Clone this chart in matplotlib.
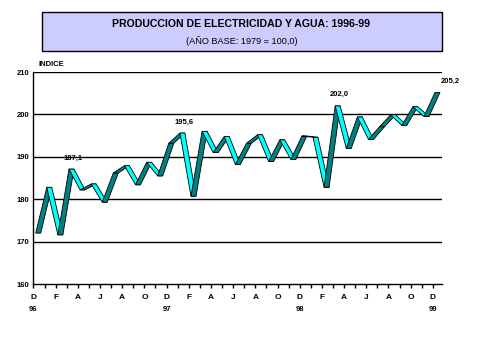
import numpy as np
import matplotlib
matplotlib.use("Agg")
import matplotlib.pyplot as plt
from matplotlib.patches import Polygon, Rectangle

# monthly index, Dec 1996 .. Dec 1999
values = [172.0, 182.8, 171.6, 187.1, 182.2, 183.6, 179.3, 186.2, 187.9, 183.4,
          188.7, 185.5, 193.2, 195.6, 180.7, 196.0, 191.0, 194.8, 188.2, 193.2,
          195.2, 188.9, 194.0, 189.4, 194.9, 194.6, 182.8, 202.0, 192.0, 199.4,
          194.1, 197.1, 199.9, 197.4, 201.8, 199.5, 205.2]
month_labels = ["D", "F", "A", "J", "A", "O"] * 3 + ["D"]
year_labels = ["96", "97", "98", "99"]
labelled = {3: "187,1", 13: "195,6", 27: "202,0", 36: "205,2"}

plt.rcParams['font.family'] = ['Liberation Sans', 'DejaVu Sans']

fig = plt.figure(figsize=(4.79, 3.59), dpi=100)
ax = fig.add_axes([0.0699, 0.2089, 0.8522, 0.5905])

n = len(values)
x = np.arange(n) + 0.2
y = np.array(values)
depth = 0.45  # ribbon depth, in months

ax.set_xlim(0, 36.8)
ax.set_ylim(160, 210)

# gridlines
for g in range(170, 211, 10):
    ax.axhline(g, color="black", lw=1.0, zorder=1)

# ribbon: one parallelogram per segment, lit when descending
for i in range(n - 1):
    pts = [(x[i], y[i]), (x[i + 1], y[i + 1]),
           (x[i + 1] + depth, y[i + 1]), (x[i] + depth, y[i])]
    col = "#00FFFF" if y[i + 1] < y[i] else "#008080"
    ax.add_patch(Polygon(pts, closed=True, facecolor=col, edgecolor="black",
                         lw=0.6, zorder=3 + i))

for i, txt in labelled.items():
    ax.annotate(txt, (x[i] + depth / 2, y[i]), xytext=(1 if i < 36 else 9, 5.5),
                textcoords="offset points", ha="center", va="bottom",
                fontsize=5.5, fontweight="bold", zorder=60)

# axes styling
for s in ["top", "right"]:
    ax.spines[s].set_visible(False)
ax.spines["left"].set_linewidth(1.0)
ax.spines["bottom"].set_linewidth(1.0)
ax.set_yticks(range(160, 211, 10))
ax.set_yticklabels([str(v) for v in range(160, 211, 10)], fontsize=5.5, fontweight="bold")
ax.tick_params(axis="y", length=0, pad=3)
ax.set_xticks(range(0, 37))
ax.set_xticklabels([month_labels[k // 2] if k % 2 == 0 else "" for k in range(37)],
                   fontsize=6, fontweight="bold")
ax.tick_params(axis="x", length=3, width=1.0, pad=4, direction="out")

for j, yr in enumerate(year_labels):
    ax.annotate(yr, (12 * j, 160), xytext=(0, -18.7), textcoords="offset points",
                ha="center", va="center", fontsize=5.5, fontweight="bold",
                annotation_clip=False)

ax.text(0.012, 1.02, "INDICE", transform=ax.transAxes, fontsize=5.5,
        fontweight="bold", va="bottom", ha="left")

# title box
fig.patches.append(Rectangle((0.087, 0.8588), 0.835, 0.107, transform=fig.transFigure,
                             facecolor="#CCCCFF", edgecolor="black", lw=1.0))
fig.text(0.503, 0.932, "PRODUCCION DE ELECTRICIDAD Y AGUA: 1996-99", ha="center",
         va="center", fontsize=7.6, fontweight="bold")
fig.text(0.505, 0.886, "(AÑO BASE: 1979 = 100,0)", ha="center", va="center", fontsize=6.6)

fig.savefig("out.png", dpi=100)
